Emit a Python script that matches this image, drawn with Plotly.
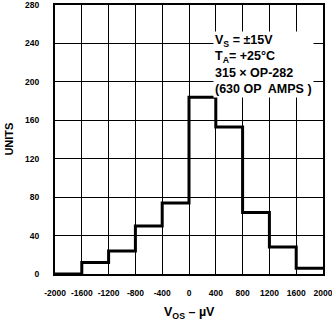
import plotly.graph_objects as go

bin_edges = [-2000, -1600, -1200, -800, -400, 0, 400, 800, 1200, 1600, 2000]
units = [0, 12, 24, 50, 74, 184, 153, 64, 28, 6]
x_ticks = [-2000, -1600, -1200, -800, -400, 0, 400, 800, 1200, 1600, 2000]
y_ticks = [0, 40, 80, 120, 160, 200, 240, 280]

step_x = bin_edges[:-1] + [bin_edges[-1]]
step_y = units + [units[-1]]

FONT = "Liberation Sans"

fig = go.Figure()
fig.add_trace(go.Scatter(
    x=step_x, y=step_y, mode="lines", line=dict(shape="hv", color="black", width=3),
    showlegend=False, hoverinfo="skip"))

fig.update_layout(
    width=332, height=322,
    margin=dict(l=55, r=9, t=5, b=48, autoexpand=False),
    paper_bgcolor="white", plot_bgcolor="white",
    font=dict(family=FONT, color="black", size=9, weight="bold"),
    xaxis=dict(range=[-2000, 2000], tickvals=x_ticks, ticktext=[str(v) for v in x_ticks],
               showgrid=True, gridcolor="black", gridwidth=1.3, zeroline=False,
               showline=True, linecolor="black", linewidth=2, mirror=True,
               ticks="", ticklabelstandoff=10, ticklabeloverflow="allow", automargin=False,
               tickfont=dict(size=8.5, weight="bold")),
    yaxis=dict(range=[0, 280], tickvals=y_ticks,
               showgrid=True, gridcolor="black", gridwidth=1.3, zeroline=False,
               showline=True, linecolor="black", linewidth=2, mirror=True,
               ticks="", ticklabelstandoff=12, ticklabeloverflow="allow", automargin=False,
               tickfont=dict(size=8.5, weight="bold")),
    annotations=[
        dict(xref="paper", yref="paper", x=0.59, y=0.905, xanchor="left", yanchor="top",
             text="V<sub>S</sub> = ±15V<br>T<sub>A</sub>= +25°C<br>315 × OP-282<br>(630 OP  AMPS )",
             showarrow=False, align="left", bgcolor="white", borderpad=1,
             font=dict(family=FONT, size=12.5, weight="bold", color="black")),
        dict(xref="paper", yref="paper", x=-0.175, y=0.5, xanchor="center", yanchor="middle",
             text="UNITS", textangle=-90, showarrow=False,
             font=dict(family=FONT, size=11, weight="bold", color="black")),
        dict(xref="paper", yref="paper", x=0.5, y=-0.145, xanchor="center", yanchor="middle",
             text="V<sub>OS</sub> – µV", showarrow=False,
             font=dict(family=FONT, size=12.5, weight="bold", color="black")),
    ],
)

fig.write_html("out.html")
